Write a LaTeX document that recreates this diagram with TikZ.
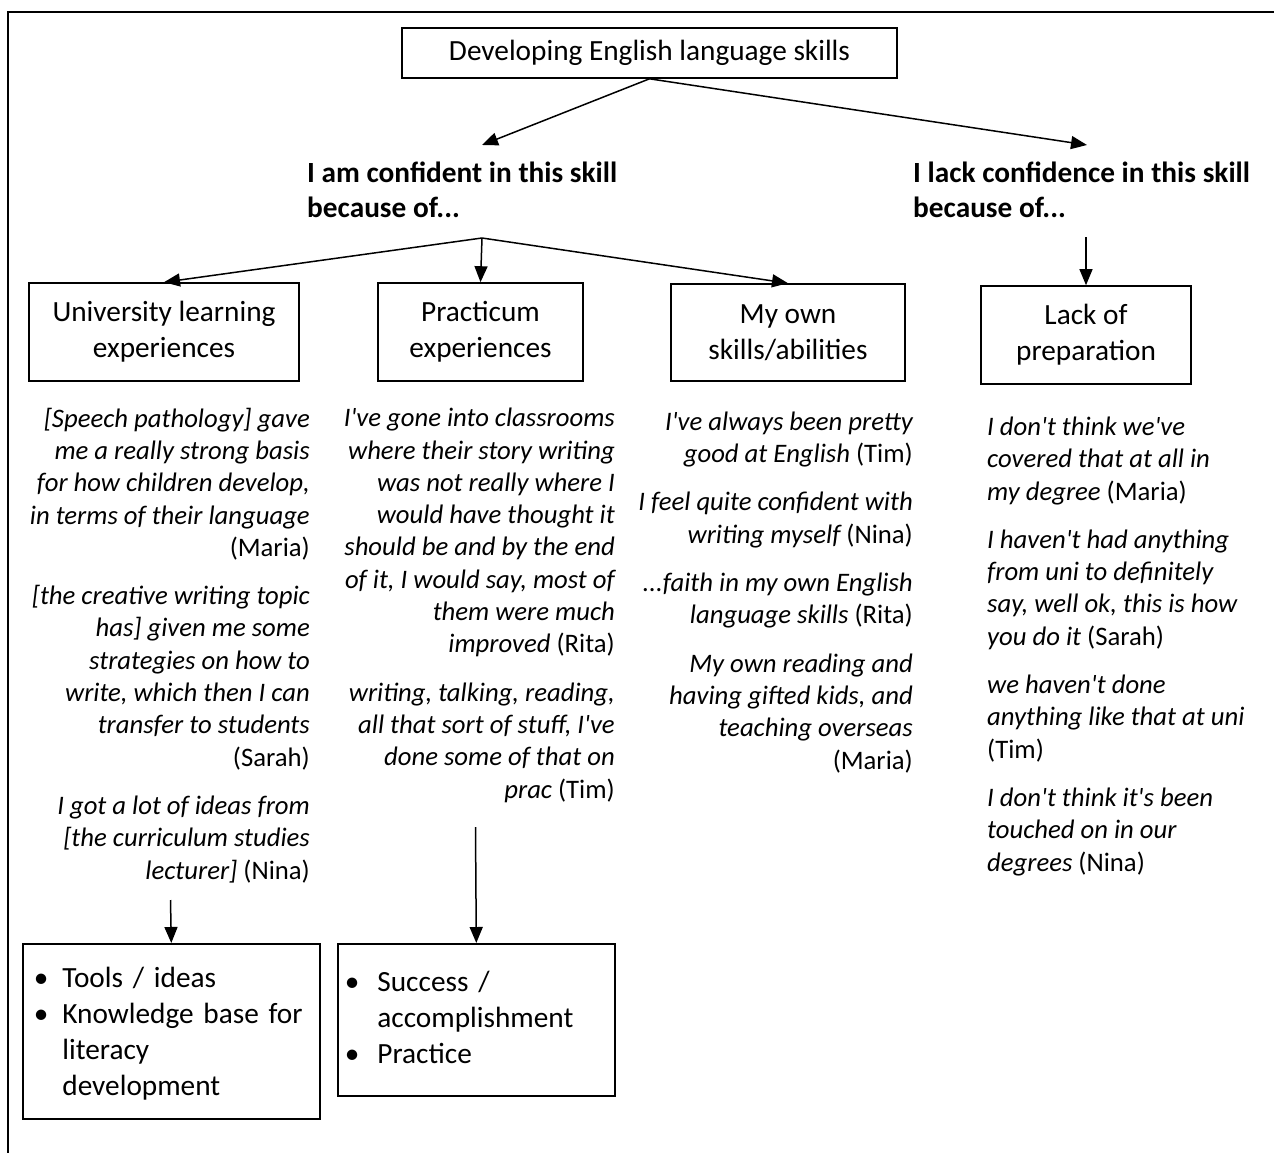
\documentclass[tikz,border=0pt]{standalone}
\usepackage{fontspec}
\setmainfont{Carlito}[Ligatures=TeXOff]
\usetikzlibrary{arrows.meta}

\newcommand{\boxfont}{\fontsize{29.3}{36}\selectfont}
\newcommand{\headfont}{\fontsize{29.3}{35}\selectfont}
\newcommand{\qtfont}{\fontsize{26.7}{32.3}\selectfont}

\begin{document}
\begin{tikzpicture}[x=1pt, y=-1pt,
    box/.style={draw, line width=1.6pt, font=\boxfont, align=center, inner sep=0pt},
    head/.style={font=\headfont\bfseries, align=left, inner sep=0pt},
    quote/.style={font=\qtfont\itshape, inner sep=0pt},
    arr/.style={line width=1.5pt, -{Triangle[length=16pt, width=13pt]}}]

    \useasboundingbox (0,0) rectangle (1274,1153);

    % Frame (only the top and left edges show)
    \draw[line width=1.6pt] (8,1153) -- (8,12) -- (1274,12);

    % Top box
    \node[box, minimum width=495, minimum height=50] (skills) at (649.5,53) {Developing English language skills};

    % The two headings (base = last line)
    \node[head, anchor=base west] (conf) at (307,217) {I am confident in this skill\\because of...};
    \node[head, anchor=base west] (lack) at (913,217) {I lack confidence in this skill\\because of...};
    \coordinate (confTip) at (482,145);
    \coordinate (lackTip) at (1087,145);
    \draw[arr] (skills.south) -- (confTip);
    \draw[arr] (skills.south) -- (lackTip);

    % Reason boxes
    \node[box, minimum width=270, minimum height=98] (uni) at (164,332) {University learning\\experiences};
    \node[box, minimum width=205, minimum height=98] (prac) at (480.5,332) {Practicum\\experiences};
    \node[box, minimum width=234, minimum height=97] (own) at (788,332.5) {My own\\skills/abilities};
    \node[box, minimum width=210, minimum height=98] (prep) at (1086,335) {Lack of\\preparation};

    % Branches from the headings
    \coordinate (split) at (482,238);
    \draw[arr] (split) -- (uni.north);
    \draw[arr] (split) -- (prac.north);
    \draw[arr] (split) -- (own.north);
    \coordinate (lackFoot) at (1086,237);
    \draw[arr, line width=1.2pt] (lackFoot) -- (prep.north);

    % Quotes under each box (base = last line)
    \node[quote, align=right, anchor=base east] (uniQ) at (310,879) {%
        {[}Speech pathology{]} gave\\
        me a really strong basis\\
        for how children develop,\\
        in terms of their language\\
        {\upshape (Maria)}\\[16pt]
        {[}the creative writing topic\\
        has{]} given me some\\
        strategies on how to\\
        write, which then I can\\
        transfer to students\\
        {\upshape (Sarah)}\\[16pt]
        I got a lot of ideas from\\
        {[}the curriculum studies\\
        lecturer{]} {\upshape (Nina)}};
    \node[quote, align=right, anchor=base east] (pracQ) at (615,798) {%
        I've gone into classrooms\\
        where their story writing\\
        was not really where I\\
        would have thought it\\
        should be and by the end\\
        of it, I would say, most of\\
        them were much\\
        improved {\upshape (Rita)}\\[16pt]
        writing, talking, reading,\\
        all that sort of stuff, I've\\
        done some of that on\\
        prac {\upshape (Tim)}};
    \node[quote, align=right, anchor=base east] (ownQ) at (913,769) {%
        I've always been pretty\\
        good at English {\upshape (Tim)}\\[16pt]
        I feel quite confident with\\
        writing myself {\upshape (Nina)}\\[16pt]
        ...faith in my own English\\
        language skills {\upshape (Rita)}\\[16pt]
        My own reading and\\
        having gifted kids, and\\
        teaching overseas\\
        {\upshape (Maria)}};
    \node[quote, align=left, anchor=base west] (prepQ) at (987,871) {%
        I don't think we've\\
        covered that at all in\\
        my degree {\upshape (Maria)}\\[16pt]
        I haven't had anything\\
        from uni to definitely\\
        say, well ok, this is how\\
        you do it {\upshape (Sarah)}\\[16pt]
        we haven't done\\
        anything like that at uni\\
        {\upshape (Tim)}\\[16pt]
        I don't think it's been\\
        touched on in our\\
        degrees {\upshape (Nina)}};

    % Summary boxes at the bottom
    \node[box, anchor=north west, minimum width=297, minimum height=175, text width=275, inner xsep=11pt, align=left] (tools) at (22,943) {%
        \raisebox{-3pt}[\height][\depth]{\begin{tabular}{@{}l@{\hspace{14pt}}l@{}}
        \textbullet & Tools / ideas\\
        \textbullet & Knowledge base for\\
         & literacy\\
         & development
        \end{tabular}}};
    \node[box, anchor=north west, minimum width=277, minimum height=152, text width=263, inner xsep=7pt, align=left] (success) at (337,943) {%
        \begin{tabular}{@{}l@{\hspace{18pt}}l@{}}
        \textbullet & Success /\\
         & accomplishment\\
        \textbullet & Practice
        \end{tabular}};
    \coordinate (uniFoot) at (170.5,900);
    \coordinate (pracFoot) at (475.5,827);
    \draw[arr] (uniFoot) -- (tools.north);
    \draw[arr] (pracFoot) -- (success.north);
\end{tikzpicture}
\end{document}
